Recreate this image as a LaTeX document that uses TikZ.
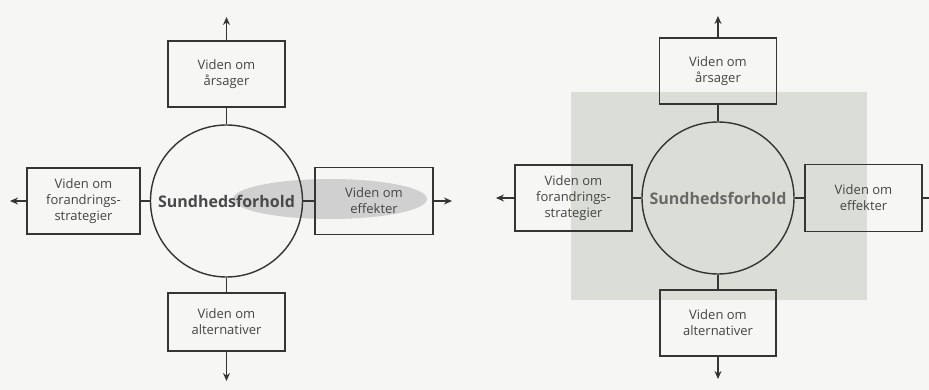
\documentclass[tikz,border=0pt]{standalone}
\usepackage{fontspec}
\setmainfont{Open Sans}
\usetikzlibrary{arrows.meta}
\definecolor{ink}{HTML}{353535}
\definecolor{txt}{HTML}{454545}
\definecolor{bgcol}{HTML}{F6F6F4}
\definecolor{panelcol}{HTML}{DBDED6}
\definecolor{ovalcol}{HTML}{D0D0D0}
\tikzset{
  kbox/.style={draw=ink, line width=1.5pt, rectangle, align=center, inner sep=0pt,
     font=\fontsize{13}{16}\selectfont, text=txt},
  hub/.style={draw=ink, line width=1.4pt, circle, minimum size=152pt, inner sep=0pt,
     font=\fontsize{16}{19}\bfseries\selectfont, text=ink!90},
  link/.style={draw=ink, line width=1.5pt},
  outarrow/.style={draw=ink, line width=1.5pt, -{Stealth[length=8pt,width=7pt]}}
}
\begin{document}
\begin{tikzpicture}[x=1pt,y=-1pt]
\fill[bgcol] (0,0) rectangle (929,390);
\useasboundingbox (0,0) rectangle (929,390);
% ---------- left diagram ----------
\fill[ovalcol] (330,199) ellipse [x radius=97, y radius=20];
\node[hub] (c1) at (226.5,201) {Sundhedsforhold};
\node[kbox, minimum width=117pt, minimum height=66pt] (t1) at (226.5,74) {Viden om\\årsager};
\node[kbox, minimum width=113pt, minimum height=66pt] (l1) at (83.5,201) {Viden om\\forandrings-\\strategier};
\node[kbox, minimum width=118pt, minimum height=67pt] (r1) at (374,201) {Viden om\\effekter};
\node[kbox, minimum width=117pt, minimum height=58pt] (b1) at (226.5,322) {Viden om\\alternativer};
\coordinate (t1end) at (226.5,17);
\coordinate (l1end) at (10,201);
\coordinate (r1end) at (452,201);
\coordinate (b1end) at (226.5,381);
\draw[link] (c1.north) -- (t1.south);
\draw[link] (c1.west) -- (l1.east);
\draw[link] (c1.east) -- (r1.west);
\draw[link] (c1.south) -- (b1.north);
\draw[outarrow] (t1.north) -- (t1end);
\draw[outarrow] (l1.west) -- (l1end);
\draw[outarrow] (r1.east) -- (r1end);
\draw[outarrow] (b1.south) -- (b1end);
% ---------- right diagram ----------
\fill[panelcol] (571,92) rectangle (867,300);
\node[hub, text=ink!75] (c2) at (718,198) {Sundhedsforhold};
\node[kbox, minimum width=117pt, minimum height=66pt] (t2) at (718,71) {Viden om\\årsager};
\node[kbox, minimum width=117pt, minimum height=66pt] (l2) at (573.5,198) {Viden om\\forandrings-\\strategier};
\node[kbox, minimum width=117pt, minimum height=67pt] (r2) at (863.5,198) {Viden om\\effekter};
\node[kbox, minimum width=116pt, minimum height=66pt] (b2) at (718,323) {Viden om\\alternativer};
\coordinate (t2end) at (718,16);
\coordinate (l2end) at (496,198);
\coordinate (r2end) at (929,198);
\coordinate (b2end) at (718,379);
\draw[link] (c2.north) -- (t2.south);
\draw[link] (c2.west) -- (l2.east);
\draw[link] (c2.east) -- (r2.west);
\draw[link] (c2.south) -- (b2.north);
\draw[outarrow] (t2.north) -- (t2end);
\draw[outarrow] (l2.west) -- (l2end);
\draw[link] (r2.east) -- (r2end);
\draw[outarrow] (b2.south) -- (b2end);
\end{tikzpicture}
\end{document}
